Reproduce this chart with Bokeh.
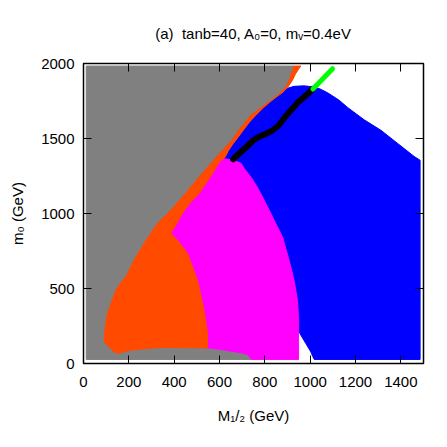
from bokeh.plotting import figure
from bokeh.models import Range1d, LinearAxis, FixedTicker
from bokeh.embed import file_html
from bokeh.resources import INLINE

# ---------------- data (M1/2, m0 in GeV) ----------------
x_ticks = [0, 200, 400, 600, 800, 1000, 1200, 1400]
y_ticks = [0, 500, 1000, 1500, 2000]

title_text = "(a)\u00a0\u00a0tanb=40, A\u2080=0, m\u1d65=0.4eV"
x_label = "M\u2081/\u2082 (GeV)"
y_label = "m\u2080 (GeV)"

# gray / orange boundary (bottom to top)
edge_x = [150, 135, 106, 93, 91, 98, 105, 121, 143, 165, 187, 223, 267, 326, 386, 449, 510, 562, 600, 650, 685, 738, 770, 808, 849, 893, 910, 929]
edge_y = [67, 77, 122, 140, 177, 267, 330, 400, 489, 540, 578, 689, 800, 933, 1022, 1133, 1244, 1333, 1400, 1480, 1555, 1655, 1690, 1733, 1777, 1844, 1900, 1983]

# gray region: bottom strip with bump, and upper-left corner
gray_low_x = [12, 740, 735, 725, 700, 651, 600, 547, 341, 282, 209]
gray_low_y = [27, 27, 40, 58, 70, 82, 95, 104, 107, 100, 89]
gray_top_x = [12]
gray_top_y = [1983]

# orange: strip right edge, orange/magenta boundary, blob boundary, bottom edge (top to bottom)
orange_r_x = [959, 951, 935, 922, 905, 882, 850, 820, 790, 760, 730, 705, 683, 660, 640, 628, 620,
              603, 590, 569, 540, 510, 475, 440, 410, 385, 415, 459, 503, 532, 547, 547, 341, 282, 209]
orange_r_y = [1983, 1967, 1930, 1889, 1850, 1811, 1775, 1740, 1700, 1655, 1605, 1555, 1510, 1465, 1420, 1385, 1367,
              1350, 1320, 1267, 1200, 1133, 1080, 1010, 930, 867, 822, 733, 555, 355, 200, 104, 107, 100, 89]

# magenta region
mag_x = [547, 600, 651, 700, 725, 735, 740, 949, 949, 944, 929, 907, 878, 841, 812, 790, 765, 740, 709, 695, 670, 640, 615,
         590, 555, 500, 420, 375, 405, 450, 495, 525, 540, 540]
mag_y = [104, 95, 82, 70, 58, 40, 27, 27, 300, 422, 555, 689, 844, 955, 1044, 1110, 1180, 1240, 1300, 1335, 1350, 1362, 1365,
         1350, 1300, 1150, 1000, 867, 822, 733, 555, 355, 200, 104]

# blue region
blue_x = [875, 900, 929, 973, 1003, 1040, 1077, 1128, 1165, 1238, 1312, 1386, 1459, 1485, 1485, 1018, 1012, 1003, 981, 959, 951,
          700, 500, 500, 600]
blue_y = [1811, 1835, 1848, 1851, 1846, 1833, 1805, 1755, 1707, 1625, 1555, 1467, 1380, 1355, 27, 27, 45, 77, 133, 189, 211,
          300, 1000, 1300, 1600]

# black band
black_x = [660, 690, 720, 750, 775, 800, 830, 860, 893, 944, 980, 1012]
black_y = [1362, 1405, 1445, 1490, 1512, 1528, 1550, 1585, 1650, 1738, 1785, 1830]

# green band
green_x = [1012, 1040, 1070, 1099]
green_y = [1830, 1873, 1920, 1965]

gray_x = gray_low_x + edge_x + gray_top_x
gray_y = gray_low_y + edge_y + gray_top_y
orange_x = edge_x + orange_r_x
orange_y = edge_y + orange_r_y

FONT = "Liberation Sans"

p = figure(width=447, height=447, x_range=Range1d(0, 1500), y_range=Range1d(0, 2000),
           output_backend="svg", toolbar_location=None,
           min_border_left=83, min_border_right=24, min_border_top=63, min_border_bottom=84,
           title=title_text)
p.xgrid.visible = False
p.ygrid.visible = False
p.outline_line_color = "black"
p.outline_line_width = 1.5
p.background_fill_color = "white"
p.border_fill_color = "white"

p.title.align = "center"
p.title.text_font = FONT
p.title.text_font_size = "15px"
p.title.text_font_style = "normal"
p.title.text_color = "black"
p.title.standoff = 44

p.patch(blue_x, blue_y, fill_color="#0000ff", line_color="#0000ff", line_width=1)
p.patch(gray_x, gray_y, fill_color="#808080", line_color="#808080", line_width=1)
p.patch(mag_x, mag_y, fill_color="#ff00ff", line_color="#ff00ff", line_width=1)
p.patch(orange_x, orange_y, fill_color="#ff4a00", line_color="#ff4a00", line_width=1)
p.line(black_x, black_y, line_color="black", line_width=6, line_cap="round", line_join="round")
p.line(green_x, green_y, line_color="#00ff00", line_width=5, line_cap="round", line_join="round")

def style_axis(ax, ticks):
    ax.ticker = FixedTicker(ticks=ticks)
    ax.major_tick_in = 8
    ax.major_tick_out = 0
    ax.minor_tick_in = 0
    ax.minor_tick_out = 0
    ax.axis_line_color = None
    ax.major_tick_line_color = "black"
    ax.major_tick_line_width = 1
    ax.major_label_text_font = FONT
    ax.major_label_text_font_size = "15px"
    ax.major_label_text_color = "black"
    ax.axis_label_text_font = FONT
    ax.axis_label_text_font_size = "15px"
    ax.axis_label_text_font_style = "normal"
    ax.axis_label_text_color = "black"

xa = p.xaxis[0]
ya = p.yaxis[0]
style_axis(xa, x_ticks)
style_axis(ya, y_ticks)
xa.major_label_standoff = 13
ya.major_label_standoff = 9
xa.axis_label = x_label
ya.axis_label = y_label
xa.axis_label_standoff = 17
ya.axis_label_standoff = 12

top = LinearAxis()
style_axis(top, x_ticks)
top.major_label_overrides = {t: "" for t in x_ticks}
top.major_label_standoff = 0
top.major_label_text_font_size = "1px"
p.add_layout(top, "above")
right = LinearAxis()
style_axis(right, y_ticks)
right.major_label_overrides = {t: "" for t in y_ticks}
right.major_label_standoff = 0
right.major_label_text_font_size = "1px"
p.add_layout(right, "right")

open("out.html", "w").write(file_html(p, INLINE))
